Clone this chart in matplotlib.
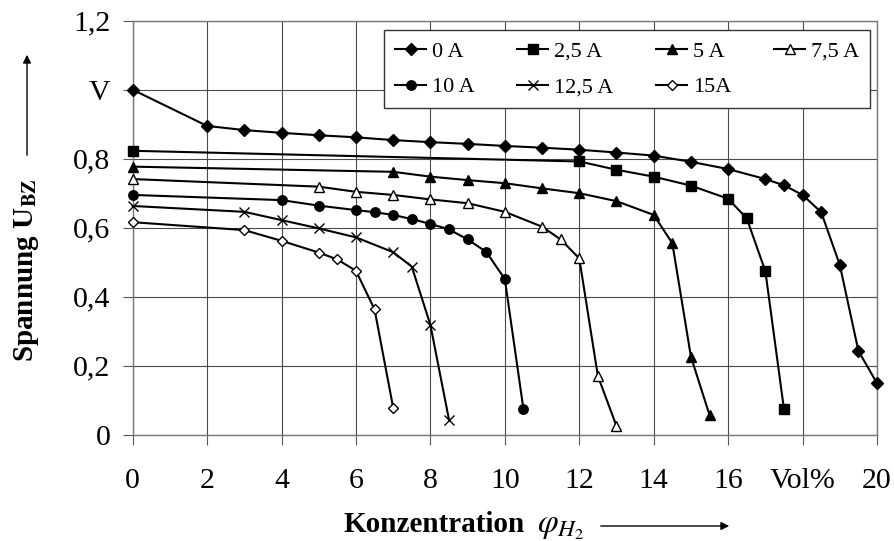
import matplotlib

matplotlib.use("Agg")
import matplotlib.pyplot as plt

plt.rcParams["font.family"] = ["Liberation Serif", "DejaVu Serif"]
plt.rcParams["mathtext.fontset"] = "stix"

# Messwerte: Zellspannung über H2-Konzentration bei verschiedenen Strömen
x_0a = [0, 2, 3, 4, 5, 6, 7, 8, 9, 10, 11, 12, 13, 14, 15, 16, 17, 17.5, 18, 18.5, 19, 19.5, 20]
y_0a = [1.0, 0.895, 0.883, 0.875, 0.868, 0.862, 0.854, 0.848, 0.843, 0.837, 0.832, 0.826,
        0.818, 0.809, 0.791, 0.770, 0.741, 0.723, 0.695, 0.645, 0.492, 0.243, 0.149]

x_25a = [0, 12, 13, 14, 15, 16, 16.5, 17, 17.5]
y_25a = [0.823, 0.792, 0.768, 0.748, 0.722, 0.684, 0.627, 0.474, 0.074]

x_5a = [0, 7, 8, 9, 10, 11, 12, 13, 14, 14.5, 15, 15.5]
y_5a = [0.777, 0.762, 0.748, 0.738, 0.729, 0.714, 0.700, 0.677, 0.637, 0.555, 0.226, 0.057]

x_75a = [0, 5, 6, 7, 8, 9, 10, 11, 11.5, 12, 12.5, 13]
y_75a = [0.741, 0.719, 0.704, 0.695, 0.682, 0.671, 0.646, 0.603, 0.566, 0.511, 0.170, 0.025]

x_10a = [0, 4, 5, 6, 6.5, 7, 7.5, 8, 8.5, 9, 9.5, 10, 10.5]
y_10a = [0.695, 0.680, 0.664, 0.651, 0.645, 0.637, 0.625, 0.611, 0.595, 0.566, 0.530, 0.451, 0.074]

x_125a = [0, 3, 4, 5, 6, 7, 7.5, 8, 8.5]
y_125a = [0.663, 0.646, 0.622, 0.598, 0.572, 0.529, 0.487, 0.318, 0.043]

x_15a = [0, 3, 4, 5, 5.5, 6, 6.5, 7]
y_15a = [0.616, 0.593, 0.562, 0.528, 0.508, 0.475, 0.363, 0.078]

x_ticks = [0, 2, 4, 6, 8, 10, 12, 14, 16, 18, 20]
x_ticklabels = ["0", "2", "4", "6", "8", "10", "12", "14", "16", "Vol%", "20"]
y_ticks = [0, 0.2, 0.4, 0.6, 0.8, 1.0, 1.2]
y_ticklabels = ["0", "0,2", "0,4", "0,6", "0,8", "V", "1,2"]

fig = plt.figure(figsize=(8.94, 5.41), dpi=100)
ax = fig.add_axes([0.1484, 0.1965, 0.8326, 0.7652])

lw = 1.5
series = [
    (x_0a, y_0a, "0 A", dict(marker="D", ms=5.8, mfc="black")),
    (x_25a, y_25a, "2,5 A", dict(marker="s", ms=7, mfc="black")),
    (x_5a, y_5a, "5 A", dict(marker="^", ms=7, mfc="black")),
    (x_75a, y_75a, "7,5 A", dict(marker="^", ms=7, mfc="white", mew=1)),
    (x_10a, y_10a, "10 A", dict(marker="o", ms=6.8, mfc="black")),
    (x_125a, y_125a, "12,5 A", dict(marker="x", ms=7, mew=1)),
    (x_15a, y_15a, "15A", dict(marker="D", ms=4.8, mfc="white", mew=1)),
]
handles = {}
for xs, ys, name, style in series:
    (h,) = ax.plot(xs, ys, color="black", lw=lw, mec="black", clip_on=False, zorder=3, label=name, **style)
    handles[name] = h

ax.set_xlim(0, 20)
ax.set_ylim(0, 1.2)
ax.set_xticks(x_ticks)
ax.set_xticklabels(x_ticklabels)
ax.set_yticks(y_ticks)
ax.set_yticklabels(y_ticklabels)
ax.tick_params(axis="x", direction="out", length=7, width=0.8, color="#555555", pad=17, labelsize=21.5)
ax.tick_params(axis="y", direction="out", length=7, width=0.8, color="#555555", pad=9, labelsize=21.5)
ax.grid(True, color="#4a4a4a", lw=0.8)
ax.set_axisbelow(True)
for sp in ax.spines.values():
    sp.set_color("#777777")
    sp.set_linewidth(1.0)

# Legende zeilenweise: matplotlib füllt spaltenweise, daher umsortieren
order = ["0 A", "10 A", "2,5 A", "12,5 A", "5 A", "15A", "7,5 A"]
leg = ax.legend(
    [handles[k] for k in order],
    order,
    ncol=4,
    loc="upper left",
    bbox_to_anchor=(0.3376, 0.799, 0.653, 0.1785),
    mode="expand",
    borderaxespad=0,
    fontsize=16,
    numpoints=1,
    handlelength=1.4,
    handletextpad=0.25,
    borderpad=0.5,
    labelspacing=0.68,
    fancybox=False,
    framealpha=1,
    edgecolor="#333333",
)
leg.get_frame().set_linewidth(1.0)

# Achsenbeschriftungen mit Pfeilen
fig.text(27 / 894, 1 - 270 / 541, r"Spannung U$_{\mathbf{BZ}}$", rotation=90,
         ha="center", va="center", fontsize=21, fontweight="bold")
ax.annotate("", xy=(27, 541 - 52), xytext=(27, 541 - 158), xycoords="figure pixels",
            textcoords="figure pixels",
            arrowprops=dict(arrowstyle="-|>", lw=1.0, color="black", mutation_scale=12))

fig.text(343 / 894, 1 - 532 / 541, "Konzentration", ha="left", va="baseline",
         fontsize=21, fontweight="bold")
fig.text(537 / 894, 1 - 532 / 541, r"$\varphi_{H_2}$", ha="left", va="baseline", fontsize=24)
ax.annotate("", xy=(732, 541 - 526), xytext=(598, 541 - 526), xycoords="figure pixels",
            textcoords="figure pixels",
            arrowprops=dict(arrowstyle="-|>", lw=1.0, color="black", mutation_scale=12))

fig.savefig("out.png", dpi=100)
